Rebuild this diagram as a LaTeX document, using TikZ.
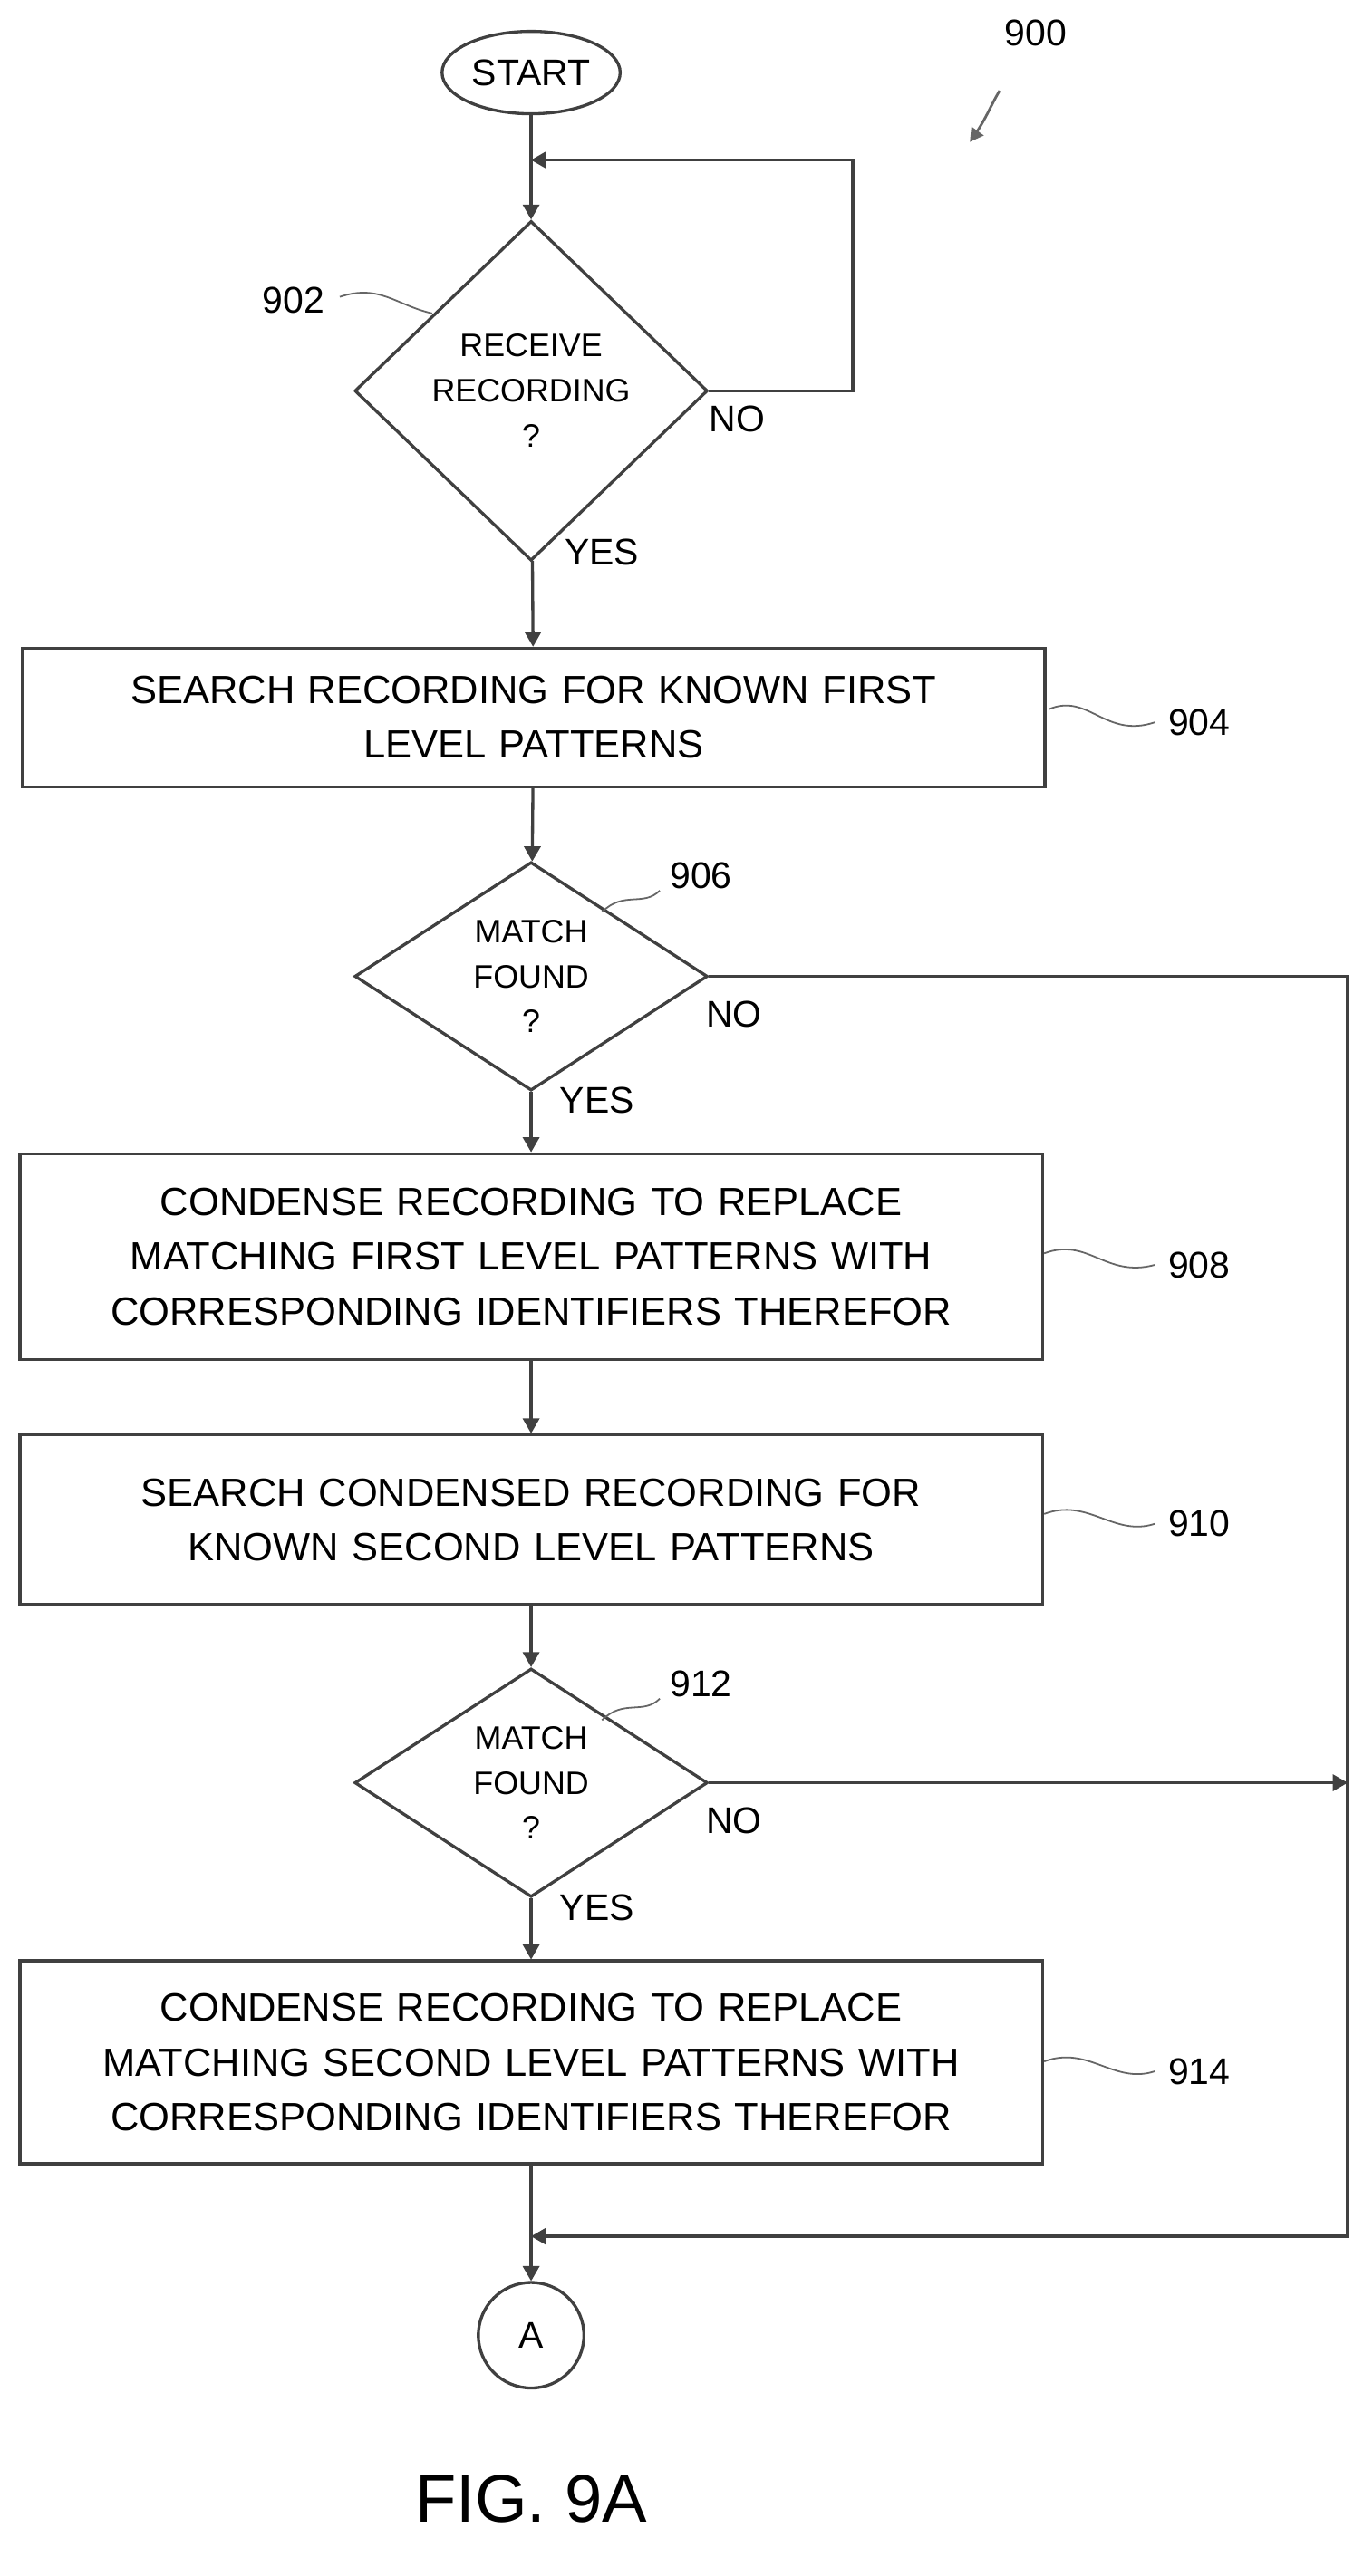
\documentclass[tikz,border=0pt]{standalone}
\usepackage{fontspec}
\setmainfont{Liberation Sans}
\usetikzlibrary{positioning,arrows,shapes.geometric}
\tikzset{
    >=stealth',
    flowbox/.style={
        rectangle,
        draw=black!75, line width=2.6pt,
        minimum width=31cm,
        text width=30cm,
        align=center,
        font={\fontsize{34}{47}\selectfont}
    },
    test/.style={
        diamond,
        draw=black!75, line width=2.6pt,
        minimum width=10.7cm,
        align=center, inner sep=0pt,
        font={\fontsize{28}{39}\selectfont}
    },
    line/.style={draw=black!75, line width=2.6pt, ->, >=triangle 60},
    tag/.style={font={\fontsize{32}{38}\selectfont}},
    wig/.style={draw=black!60, line width=1.4pt},
}
\begin{document}
\begin{tikzpicture}[x=0.05cm, y=-0.05cm]
\useasboundingbox (0,0) rectangle (826,1562);
\node(start) at (322,44)[ellipse, draw=black!75, line width=2.6pt, minimum width=5.4cm, minimum height=2.5cm, font={\fontsize{32}{38}\selectfont}]{START};
\node(recv) at (322,237)[test, minimum height=10.3cm]{RECEIVE\\RECORDING\\?};
\node(srch1) at (323.5,435)[flowbox, minimum height=4.2cm]{SEARCH RECORDING FOR KNOWN FIRST\\LEVEL PATTERNS};
\node(match1) at (322,592)[test, minimum height=6.75cm]{MATCH\\FOUND\\?};
\node(cond1) at (322,762)[flowbox, minimum height=6.25cm]{CONDENSE RECORDING TO REPLACE\\MATCHING FIRST LEVEL PATTERNS WITH\\CORRESPONDING IDENTIFIERS THEREFOR};
\node(srch2) at (322,921.5)[flowbox, minimum height=5.15cm]{SEARCH CONDENSED RECORDING FOR\\KNOWN SECOND LEVEL PATTERNS};
\node(match2) at (322,1081)[test, minimum height=6.65cm]{MATCH\\FOUND\\?};
\node(cond2) at (322,1250.5)[flowbox, minimum height=6.15cm]{CONDENSE RECORDING TO REPLACE\\MATCHING SECOND LEVEL PATTERNS WITH\\CORRESPONDING IDENTIFIERS THEREFOR};
\node(conn) at (322,1416)[circle, draw=black!75, line width=2.6pt, minimum size=3.2cm, font={\fontsize{32}{38}\selectfont}]{A};
\node(fig) at (322,1515)[font={\fontsize{58}{64}\selectfont}]{FIG. 9A};
% flow
\coordinate(loop) at (322,97);
\coordinate(join) at (322,1356);
\draw[line] (start) -- (recv);
\draw[line] (recv.east) -- (517,237) -- (517,97) -- (loop);
\draw[line] (recv) -- (srch1);
\draw[line] (srch1) -- (match1);
\draw[line] (match1) -- (cond1);
\draw[line] (cond1) -- (srch2);
\draw[line] (srch2) -- (match2);
\draw[line] (match2) -- (cond2);
\draw[line] (match1.east) -- (817,592) -- (817,1356) -- (join);
\draw[line] (match2.east) -- (817,1081);
\draw[line] (cond2) -- (conn);
% yes / no
\node[tag] at (447,254){NO};
\node[tag] at (365,335){YES};
\node[tag] at (445,615){NO};
\node[tag] at (362,667){YES};
\node[tag] at (445,1104){NO};
\node[tag] at (362,1157){YES};
% reference numerals
\node(n900)[tag] at (628,20){900};
\draw[wig, line width=2.2pt, ->, >=triangle 60] (606,55) .. controls (600,65) and (598,72) .. (588,86);
\node(n902)[tag] at (178,182){902};
\draw[wig] (206,180) .. controls (230,172) and (240,185) .. (262,190);
\node(n904)[tag] at (727,438){904};
\draw[wig] (636,430) .. controls (660,420) and (670,448) .. (700,438);
\node(n906)[tag] at (425,531){906};
\draw[wig] (365,553) .. controls (378,540) and (390,550) .. (400,540);
\node(n908)[tag] at (727,767){908};
\draw[wig] (633,760) .. controls (660,750) and (670,775) .. (700,767);
\node(n910)[tag] at (727,924){910};
\draw[wig] (633,918) .. controls (660,908) and (675,932) .. (700,924);
\node(n912)[tag] at (425,1021){912};
\draw[wig] (365,1043) .. controls (378,1030) and (390,1040) .. (400,1030);
\node(n914)[tag] at (727,1256){914};
\draw[wig] (633,1250) .. controls (660,1240) and (675,1264) .. (700,1256);
\end{tikzpicture}
\end{document}
